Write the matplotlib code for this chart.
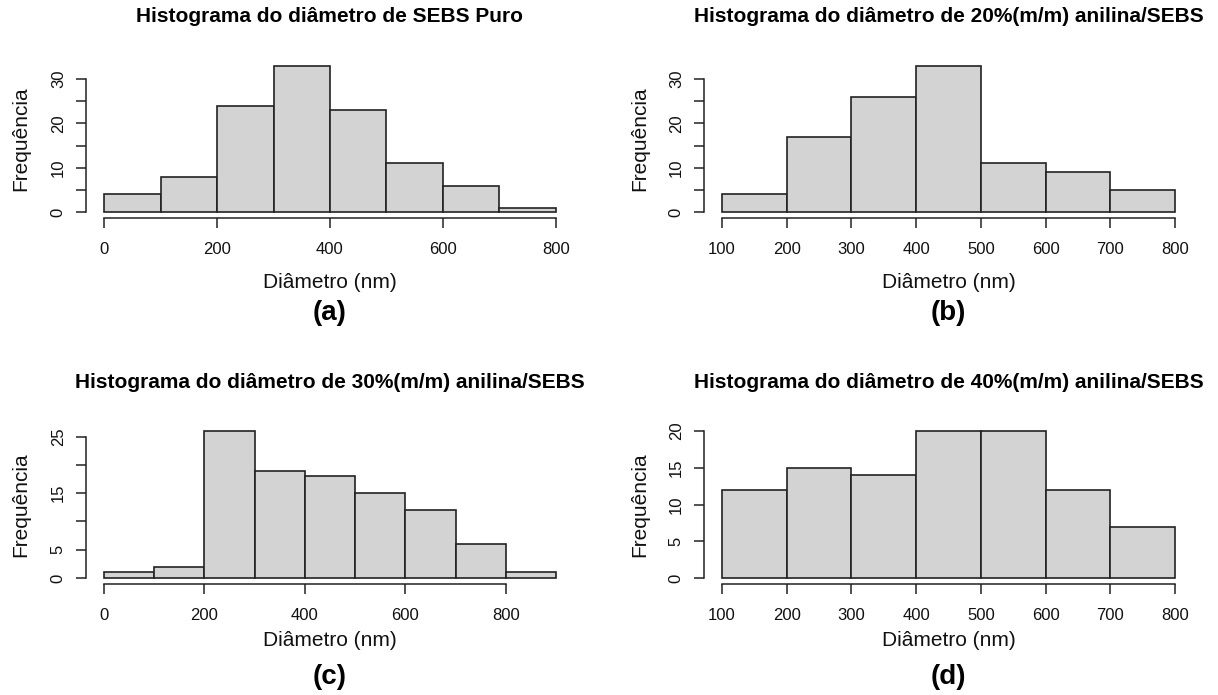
import numpy as np
import matplotlib.pyplot as plt

plt.rcParams['font.family'] = ['Liberation Sans', 'DejaVu Sans']

# bin edges and counts for each histogram
titles = [
    'Histograma do diâmetro de SEBS Puro',
    'Histograma do diâmetro de 20%(m/m) anilina/SEBS',
    'Histograma do diâmetro de 30%(m/m) anilina/SEBS',
    'Histograma do diâmetro de 40%(m/m) anilina/SEBS',
]
letters = ['(a)', '(b)', '(c)', '(d)']

edges_a = [0, 100, 200, 300, 400, 500, 600, 700, 800]
counts_a = [4, 8, 24, 33, 23, 11, 6, 1]
edges_b = [100, 200, 300, 400, 500, 600, 700, 800]
counts_b = [4, 17, 26, 33, 11, 9, 5]
edges_c = [0, 100, 200, 300, 400, 500, 600, 700, 800, 900]
counts_c = [1, 2, 26, 19, 18, 15, 12, 6, 1]
edges_d = [100, 200, 300, 400, 500, 600, 700, 800]
counts_d = [12, 15, 14, 20, 20, 12, 7]

xticks_a = [0, 200, 400, 600, 800]
xticks_b = [100, 200, 300, 400, 500, 600, 700, 800]
xticks_c = [0, 200, 400, 600, 800]
xticks_d = [100, 200, 300, 400, 500, 600, 700, 800]

yticks_ab = [0, 5, 10, 15, 20, 25, 30]
ylabels_ab = ['0', '', '10', '', '20', '', '30']
yticks_c = [0, 5, 10, 15, 20, 25]
ylabels_c = ['0', '5', '', '15', '', '25']
yticks_d = [0, 5, 10, 15, 20]
ylabels_d = ['0', '5', '10', '15', '20']

W, H = 1218, 695
fig = plt.figure(figsize=(W / 100, H / 100), dpi=100)

# plot regions in pixels: (left, right) and (top, bottom)
cols = [(86, 574), (704, 1193)]
rows = [(60, 218), (425, 584)]
title_y = [16, 383]
xlab_y = [282, 641]
letter_y = [313, 677]
ylab_x = [21, 640]

panels = [
    (edges_a, counts_a, xticks_a, yticks_ab, ylabels_ab),
    (edges_b, counts_b, xticks_b, yticks_ab, ylabels_ab),
    (edges_c, counts_c, xticks_c, yticks_c, ylabels_c),
    (edges_d, counts_d, xticks_d, yticks_d, ylabels_d),
]

for i, (edges, counts, xt, yt, yl) in enumerate(panels):
    r, c = divmod(i, 2)
    x0, x1 = cols[c]
    y0, y1 = rows[r]
    ax = fig.add_axes([x0 / W, 1 - y1 / H, (x1 - x0) / W, (y1 - y0) / H])
    ax.patch.set_alpha(0)
    e = np.array(edges)
    ax.bar(e[:-1], counts, width=np.diff(e), align='edge',
           color='#d3d3d3', edgecolor='#222222', linewidth=1.2)
    rng = e[-1] - e[0]
    ax.set_xlim(e[0] - 0.04 * rng, e[-1] + 0.04 * rng)
    m = max(counts)
    ax.set_ylim(-0.04 * m, 1.04 * m)
    for s in ['top', 'right']:
        ax.spines[s].set_visible(False)
    ax.spines['bottom'].set_bounds(xt[0], xt[-1])
    ax.spines['left'].set_bounds(yt[0], yt[-1])
    for s in ['bottom', 'left']:
        ax.spines[s].set_linewidth(1.1)
        ax.spines[s].set_color('#222222')
    ax.set_xticks(xt)
    ax.set_yticks(yt)
    ax.set_yticklabels(yl, rotation=90, va='center')
    ax.tick_params(direction='out', length=7.5, width=1.1, color='#222222',
                   labelsize=12, labelcolor='#111111')
    ax.tick_params(axis='x', pad=10)
    ax.tick_params(axis='y', pad=7)

    cx = (x0 + x1) / 2 / W
    fig.text(cx, 1 - title_y[r] / H, titles[i], ha='center', va='center',
             fontsize=15, fontweight='bold')
    fig.text(cx, 1 - xlab_y[r] / H, 'Diâmetro (nm)', ha='center', va='center',
             fontsize=15, color='#111111')
    fig.text(cx, 1 - letter_y[r] / H, letters[i], ha='center', va='center',
             fontsize=20, fontweight='bold')
    fig.text(ylab_x[c] / W, 1 - (y0 + y1) / 2 / H, 'Frequência', rotation=90,
             ha='center', va='center', fontsize=15, color='#111111')

fig.savefig('out.png', dpi=100)
